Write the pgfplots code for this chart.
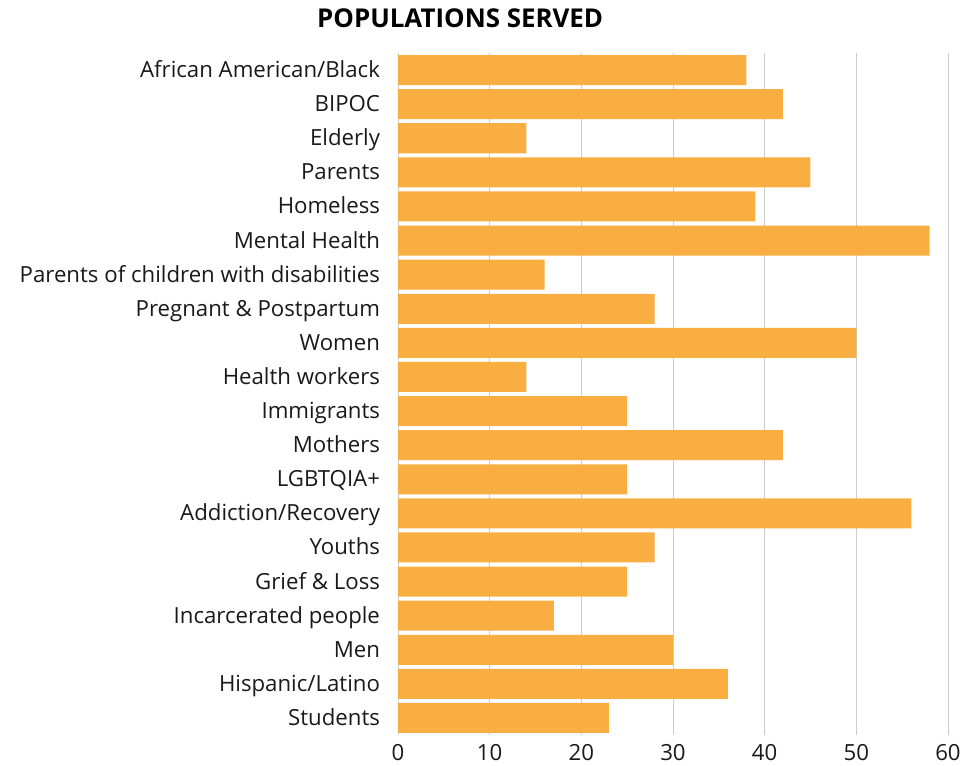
\documentclass[border=0pt]{standalone}
\usepackage{fontspec}
\setmainfont{Open Sans}
\usepackage{pgfplots}
\pgfplotsset{compat=1.18}
\definecolor{barc}{HTML}{F9AE42}
\begin{document}
\begin{tikzpicture}
\begin{axis}[
  scale only axis, width=550bp, height=682bp,
  xbar, bar width=0.88,
  xmin=0, xmax=60, ymin=-0.5, ymax=19.5, y dir=reverse,
  ytick={0,...,19},
  yticklabels={African American/Black, BIPOC, Elderly, Parents, Homeless, Mental Health, Parents of children with disabilities, Pregnant \& Postpartum, Women, Health workers, Immigrants, Mothers, LGBTQIA+, Addiction/Recovery, Youths, Grief \& Loss, Incarcerated people, Men, Hispanic/Latino, Students},
  xtick={0,10,...,60},
  axis line style={draw=none}, major tick length=0pt,
  xmajorgrids, grid style={black!20, line width=0.8pt},
  tick label style={font=\fontsize{22.3}{26}\selectfont, text=black!90},
  /pgf/number format/assume math mode=true,
  yticklabel style={anchor=base east, xshift=-14.5bp, yshift=-7.5bp},
  xticklabel style={anchor=base, yshift=-25bp},
  title={\textbf{POPULATIONS SERVED}},
  title style={font=\fontsize{26}{30}\selectfont, at={(0.113,1)}, anchor=base, yshift=20bp},
]
\addplot[fill=barc, draw=none] coordinates {
(38,0) (42,1) (14,2) (45,3) (39,4) (58,5) (16,6) (28,7) (50,8) (14,9)
(25,10) (42,11) (25,12) (56,13) (28,14) (25,15) (17,16) (30,17) (36,18) (23,19)};
\end{axis}
\pgfresetboundingbox
\useasboundingbox (-398bp,-31bp) rectangle (566bp,735bp);
\end{tikzpicture}
\end{document}
